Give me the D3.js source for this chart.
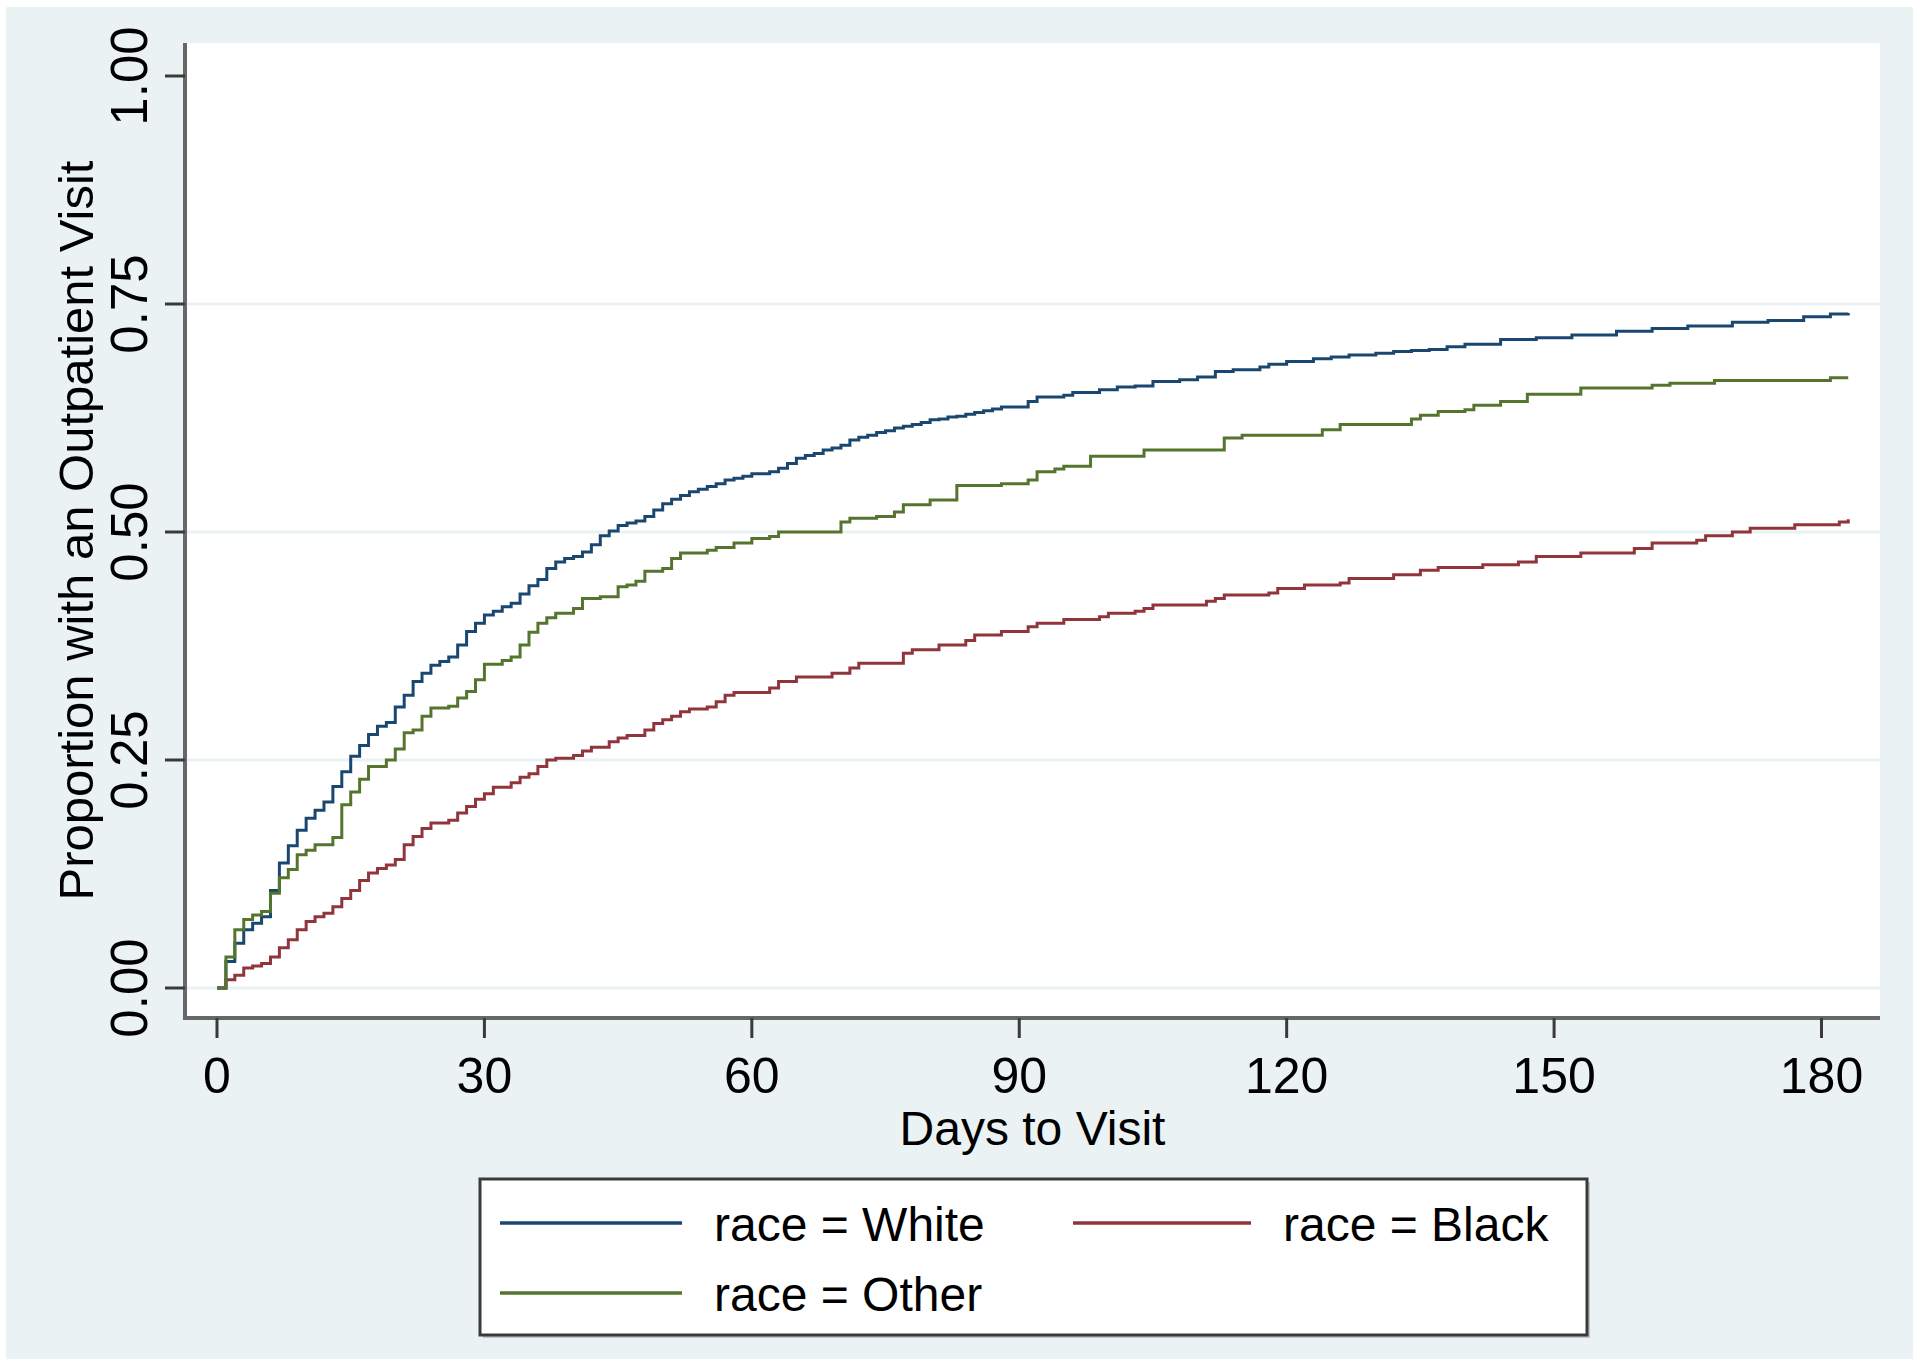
<!DOCTYPE html>
<html>
<head>
<meta charset="utf-8">
<script src="https://cdn.jsdelivr.net/npm/d3@7"></script>
<style>
  html, body { margin: 0; padding: 0; background: #ffffff; }
  svg { display: block; }
  text { font-family: "Liberation Sans", Arial, "DejaVu Sans", sans-serif; fill: #000; }
</style>
</head>
<body>
<svg id="chart" width="1920" height="1366"></svg>
<script>
// ---------- data ----------
const xTicks = [0, 30, 60, 90, 120, 150, 180];
const yTicks = [0, 0.25, 0.5, 0.75, 1];
const yTickLabels = ["0.00", "0.25", "0.50", "0.75", "1.00"];
const gridValues = [0, 0.25, 0.5, 0.75];
const xTitle = "Days to Visit";
const yTitle = "Proportion with an Outpatient Visit";
const seriesNames = ["race = White", "race = Black", "race = Other"];
const seriesColors = ["#1A476F", "#90353B", "#55752F"];

const whiteDays = [0,1,2,3,4,5,6,7,8,9,10,11,12,13,14,15,16,17,18,19,20,21,22,23,24,25,26,27,28,29,30,31,32,33,34,35,36,37,38,39,40,41,42,43,44,45,46,47,48,49,50,51,52,53,54,55,56,57,58,59,60,62,63,64,65,66,67,68,69,70,71,72,73,74,75,76,77,78,79,80,81,82,83,84,85,86,87,88,91,92,95,96,99,101,103,105,108,110,112,114,117,118,120,123,125,127,130,132,134,136,138,140,144,148,152,157,161,165,170,174,178,181,183];
const whiteProp = [0,0.029,0.049,0.064,0.071,0.078,0.107,0.137,0.156,0.173,0.186,0.195,0.204,0.221,0.237,0.254,0.266,0.278,0.287,0.291,0.308,0.321,0.336,0.345,0.354,0.358,0.363,0.376,0.391,0.400,0.409,0.413,0.418,0.422,0.432,0.441,0.448,0.460,0.467,0.471,0.473,0.478,0.486,0.496,0.501,0.507,0.510,0.512,0.517,0.524,0.531,0.536,0.540,0.544,0.547,0.550,0.553,0.557,0.559,0.561,0.564,0.566,0.570,0.575,0.581,0.584,0.586,0.590,0.592,0.595,0.601,0.604,0.606,0.609,0.611,0.614,0.616,0.618,0.620,0.623,0.624,0.626,0.627,0.629,0.631,0.633,0.635,0.637,0.643,0.648,0.650,0.653,0.656,0.659,0.660,0.665,0.667,0.670,0.676,0.678,0.681,0.684,0.687,0.690,0.692,0.694,0.696,0.698,0.699,0.700,0.703,0.706,0.711,0.713,0.716,0.720,0.723,0.726,0.730,0.732,0.736,0.739,0.740];

const blackDays = [0,1,2,3,4,5,6,7,8,9,10,11,12,13,14,15,16,17,18,19,20,21,22,23,24,26,27,28,29,30,31,33,34,35,36,37,38,40,41,42,44,45,46,48,49,50,51,52,53,55,56,57,58,62,63,65,69,71,72,77,78,81,84,85,88,91,92,95,99,100,103,104,105,111,112,113,118,119,122,126,127,132,135,137,142,146,148,153,159,161,166,167,170,172,177,182,183];
const blackProp = [0,0.009,0.014,0.022,0.024,0.027,0.034,0.044,0.053,0.064,0.073,0.078,0.082,0.089,0.098,0.107,0.118,0.126,0.131,0.135,0.141,0.157,0.166,0.175,0.181,0.184,0.192,0.199,0.207,0.213,0.220,0.225,0.231,0.235,0.243,0.250,0.252,0.255,0.260,0.264,0.270,0.274,0.277,0.283,0.290,0.294,0.298,0.303,0.306,0.308,0.314,0.321,0.324,0.329,0.336,0.341,0.345,0.351,0.356,0.367,0.371,0.376,0.381,0.387,0.391,0.396,0.400,0.404,0.407,0.411,0.413,0.416,0.420,0.424,0.427,0.431,0.433,0.438,0.442,0.444,0.449,0.453,0.458,0.461,0.464,0.467,0.473,0.477,0.482,0.488,0.491,0.496,0.500,0.504,0.508,0.511,0.514];

const otherDays = [0,1,2,3,4,5,6,7,8,9,10,11,13,14,15,16,17,19,20,21,22,23,24,26,27,28,29,30,32,33,34,35,36,37,38,40,41,43,45,46,47,48,50,51,52,55,56,58,60,62,63,70,71,74,76,77,80,83,88,91,92,94,95,98,104,113,115,124,126,134,135,137,140,141,144,147,153,161,163,168,181,183];
const otherProp = [0,0.034,0.064,0.075,0.080,0.084,0.104,0.121,0.130,0.146,0.151,0.157,0.165,0.201,0.215,0.229,0.243,0.250,0.262,0.280,0.283,0.298,0.307,0.309,0.318,0.325,0.338,0.355,0.359,0.363,0.376,0.390,0.400,0.406,0.411,0.416,0.427,0.429,0.440,0.442,0.446,0.457,0.460,0.471,0.477,0.480,0.483,0.488,0.493,0.495,0.500,0.511,0.515,0.517,0.522,0.530,0.535,0.551,0.553,0.557,0.566,0.569,0.572,0.583,0.590,0.603,0.606,0.612,0.618,0.624,0.628,0.632,0.634,0.639,0.643,0.651,0.658,0.661,0.663,0.666,0.669,0.669];

const series = [
  { name: seriesNames[0], color: seriesColors[0], days: whiteDays, prop: whiteProp },
  { name: seriesNames[1], color: seriesColors[1], days: blackDays, prop: blackProp },
  { name: seriesNames[2], color: seriesColors[2], days: otherDays, prop: otherProp }
];

// ---------- layout ----------
const svg = d3.select("#chart");
const bgColor = "#EAF2F3";
const plotLeft = 185, plotRight = 1880, plotTop = 43, plotBottom = 1018;

svg.append("rect").attr("x", 6).attr("y", 7).attr("width", 1907).attr("height", 1352).attr("fill", bgColor);
svg.append("rect").attr("x", plotLeft).attr("y", plotTop)
  .attr("width", plotRight - plotLeft).attr("height", plotBottom - plotTop).attr("fill", "#ffffff");

const x = d3.scaleLinear().domain([0, 180]).range([217, 1821.5]);
const y = d3.scaleLinear().domain([0, 1]).range([988, 76]);

// gridlines
svg.append("g").selectAll("line").data(gridValues).join("line")
  .attr("x1", plotLeft).attr("x2", plotRight)
  .attr("y1", d => y(d)).attr("y2", d => y(d))
  .attr("stroke", bgColor).attr("stroke-width", 3);

// curves (Kaplan-Meier style steps)
const line = d3.line().x(d => x(d[0])).y(d => y(d[1])).curve(d3.curveStepAfter);
series.forEach(s => {
  const pts = s.days.map((d, i) => [d, s.prop[i]]);
  svg.append("path").datum(pts)
    .attr("d", line)
    .attr("fill", "none")
    .attr("stroke", s.color)
    .attr("stroke-width", 3)
    .attr("stroke-linejoin", "miter");
});

// axes
const axisColor = "#676767";
const tickColor = "#3a3a3a";
svg.append("line").attr("x1", plotLeft).attr("x2", plotLeft).attr("y1", plotTop).attr("y2", plotBottom + 1.5)
  .attr("stroke", axisColor).attr("stroke-width", 4);
svg.append("line").attr("x1", plotLeft - 2).attr("x2", plotRight).attr("y1", plotBottom).attr("y2", plotBottom)
  .attr("stroke", axisColor).attr("stroke-width", 4);

// y ticks
svg.append("g").selectAll("line").data(yTicks).join("line")
  .attr("x1", 165).attr("x2", plotLeft)
  .attr("y1", d => y(d)).attr("y2", d => y(d))
  .attr("stroke", tickColor).attr("stroke-width", 3);
svg.append("g").selectAll("text").data(yTicks).join("text")
  .attr("transform", d => `translate(147,${y(d)}) rotate(-90)`)
  .attr("text-anchor", "middle")
  .style("font-size", "51px")
  .text((d, i) => yTickLabels[i]);

// x ticks
svg.append("g").selectAll("line").data(xTicks).join("line")
  .attr("x1", d => x(d)).attr("x2", d => x(d))
  .attr("y1", plotBottom).attr("y2", 1038)
  .attr("stroke", tickColor).attr("stroke-width", 3);
svg.append("g").selectAll("text").data(xTicks).join("text")
  .attr("x", d => x(d)).attr("y", 1093)
  .attr("text-anchor", "middle")
  .style("font-size", "50px")
  .text(d => d);

// axis titles
svg.append("text").attr("x", (plotLeft + plotRight) / 2).attr("y", 1145)
  .attr("text-anchor", "middle").style("font-size", "48px").text(xTitle);
svg.append("text")
  .attr("transform", `translate(93,${(plotTop + plotBottom) / 2}) rotate(-90)`)
  .attr("text-anchor", "middle").style("font-size", "49px").text(yTitle);

// legend
const lg = svg.append("g");
lg.append("rect").attr("x", 483).attr("y", 1182).attr("width", 1107).attr("height", 156).attr("fill", "#bfc5c6");
lg.append("rect").attr("x", 480).attr("y", 1179).attr("width", 1107).attr("height", 156)
  .attr("fill", "#ffffff").attr("stroke", "#3a3a3a").attr("stroke-width", 3);
const legendPos = [
  { lx1: 500, lx2: 682, ly: 1223, tx: 714, ty: 1241 },
  { lx1: 1073, lx2: 1251, ly: 1223, tx: 1283, ty: 1241 },
  { lx1: 500, lx2: 682, ly: 1293, tx: 714, ty: 1311 }
];
series.forEach((s, i) => {
  const p = legendPos[i];
  lg.append("line").attr("x1", p.lx1).attr("x2", p.lx2).attr("y1", p.ly).attr("y2", p.ly)
    .attr("stroke", s.color).attr("stroke-width", 3.5);
  lg.append("text").attr("x", p.tx).attr("y", p.ty).style("font-size", "48px").text(s.name);
});
</script>
</body>
</html>
